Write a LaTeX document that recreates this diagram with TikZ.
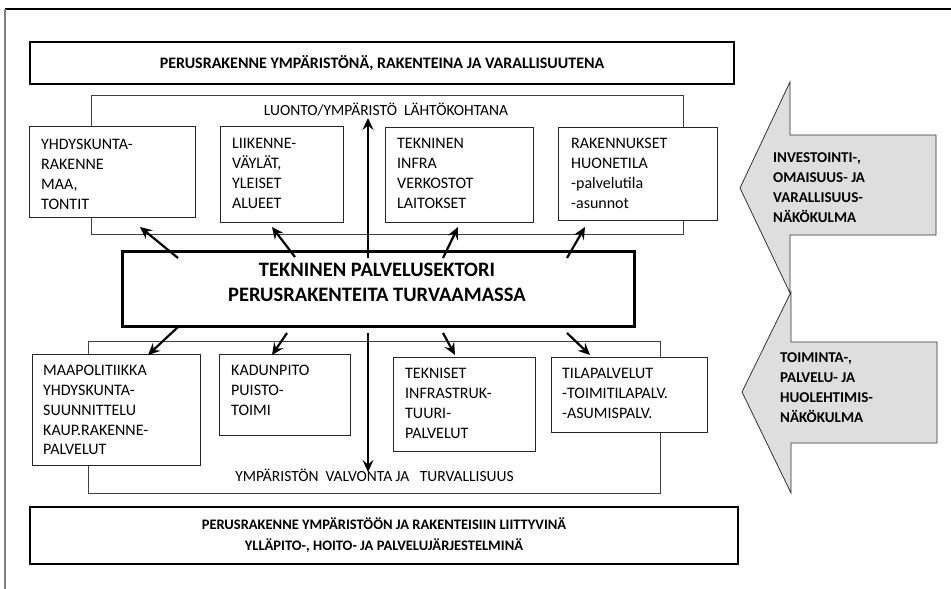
\documentclass[tikz,border=0pt]{standalone}
\usepackage{fontspec}
\setmainfont{Carlito}
\usetikzlibrary{arrows.meta,calc}
\begin{document}
\begin{tikzpicture}[x=1pt,y=-1pt,
  banner/.style={draw, line width=2pt, anchor=north west, inner sep=0pt, align=center},
  holder/.style={draw=black!75, line width=1pt, anchor=north west, inner sep=0pt},
  cell/.style={draw=black!85, fill=white, line width=1pt, anchor=north west, inner sep=0pt},
  celltext/.style={anchor=north west, inner sep=0pt, align=left,
    font=\fontsize{16}{19.7}\selectfont},
  holdertext/.style={anchor=base, inner sep=0pt, font=\fontsize{15.5}{19.7}\selectfont},
  corebox/.style={draw, line width=2.5pt, anchor=north west, inner sep=0pt},
  coretext/.style={align=center, inner sep=0pt, font=\fontsize{20.5}{25}\selectfont\bfseries},
  flow/.style={line width=2.2pt, -{Stealth[length=12pt,width=11pt,inset=4.5pt]}},
  view/.style={draw=black!80, fill=black!13, line width=0.8pt},
  viewtext/.style={anchor=north west, inner sep=0pt, align=left,
    font=\fontsize{15}{19.7}\selectfont\bfseries},
]
\useasboundingbox (0,0) rectangle (951,589);

% page frame
\draw[line width=1.5pt] (5,9) -- (951,9);
\draw[black!50, line width=1.5pt] (5,9) -- (5,589);

% banners
\node[banner, minimum width=704, minimum height=42, font=\fontsize{16}{21}\selectfont\bfseries]
  (topbar) at (29,41) {PERUSRAKENNE YMPÄRISTÖNÄ, RAKENTEINA JA VARALLISUUTENA};
\node[banner, minimum width=708, minimum height=57, font=\fontsize{14.5}{21}\selectfont\bfseries]
  (bottombar) at (29,506)
  {PERUSRAKENNE YMPÄRISTÖÖN JA RAKENTEISIIN LIITTYVINÄ\\
   YLLÄPITO-, HOITO- JA PALVELUJÄRJESTELMINÄ};

% containers
\node[holder, minimum width=592, minimum height=139] (upper) at (91,95) {};
\node[holder, minimum width=572, minimum height=152] (lower) at (88,341) {};
\node[holdertext] (uppertitle) at (386,115) {LUONTO/YMPÄRISTÖ\ \ LÄHTÖKOHTANA};
\node[holdertext] (lowertitle) at (374.5,481) {YMPÄRISTÖN\ \ VALVONTA JA\ \ \ TURVALLISUUS};

% upper cells
\node[cell, minimum width=166, minimum height=91] (c1) at (29,126) {};
\node[cell, minimum width=123, minimum height=96] (c2) at (220,126) {};
\node[cell, minimum width=148, minimum height=95] (c3) at (385,127) {};
\node[cell, minimum width=159, minimum height=93] (c4) at (558,127) {};
\node[celltext] (t1) at ($(c1.north west)+(12,10)$) {\strut YHDYSKUNTA-\\RAKENNE\\MAA,\\TONTIT};
\node[celltext] (t2) at ($(c2.north west)+(12,9)$) {\strut LIIKENNE-\\VÄYLÄT,\\YLEISET\\ALUEET};
\node[celltext] (t3) at ($(c3.north west)+(12,8)$) {\strut TEKNINEN\\INFRA\\VERKOSTOT\\LAITOKSET};
\node[celltext] (t4) at ($(c4.north west)+(13,8)$) {\strut RAKENNUKSET\\HUONETILA\\-palvelutila\\-asunnot};

% lower cells
\node[cell, minimum width=168, minimum height=111] (d1) at (32,354) {};
\node[cell, minimum width=131, minimum height=81] (d2) at (219,354) {};
\node[cell, minimum width=142, minimum height=94] (d3) at (393,357) {};
\node[cell, minimum width=156, minimum height=75] (d4) at (551,357) {};
\node[celltext] (s1) at ($(d1.north west)+(11,8)$) {\strut MAAPOLITIIKKA\\YHDYSKUNTA-\\SUUNNITTELU\\KAUP.RAKENNE-\\PALVELUT};
\node[celltext] (s2) at ($(d2.north west)+(12,8)$) {\strut KADUNPITO\\PUISTO-\\TOIMI};
\node[celltext] (s3) at ($(d3.north west)+(12,8)$) {\strut TEKNISET\\INFRASTRUK-\\TUURI-\\PALVELUT};
\node[celltext] (s4) at ($(d4.north west)+(11,8)$) {\strut TILAPALVELUT\\-TOIMITILAPALV.\\-ASUMISPALV.};

% central sector
\node[corebox, minimum width=512, minimum height=75] (core) at (121,250) {};
\node[coretext] (coretitle) at (377,282.5) {TEKNINEN PALVELUSEKTORI\\PERUSRAKENTEITA TURVAAMASSA};

% arrow end points
\coordinate (u1a) at (178,258); \coordinate (u1b) at (140,227);
\coordinate (u2a) at (295,257); \coordinate (u2b) at (272,227);
\coordinate (u3a) at (368,258); \coordinate (u3b) at (368,118);
\coordinate (u4a) at (443,258); \coordinate (u4b) at (458,227);
\coordinate (u5a) at (567,258); \coordinate (u5b) at (585,227);
\coordinate (l1a) at (178,327); \coordinate (l1b) at (148,355);
\coordinate (l2a) at (287,333); \coordinate (l2b) at (272,355);
\coordinate (l3a) at (368,333); \coordinate (l3b) at (368,472);
\coordinate (l4a) at (443,333); \coordinate (l4b) at (455,355);
\coordinate (l5a) at (567,333); \coordinate (l5b) at (590,355);

\foreach \a in {u1,u2,u3,u4,u5,l1,l2,l3,l4,l5}
  \draw[flow] (\a a) -- (\a b);

% viewpoint arrows
\draw[view] (740,188) -- (790,82) -- (790,135) -- (936,135) -- (936,235)
  -- (790,235) -- (790,293) -- cycle;
\draw[view] (742,392) -- (791,292) -- (791,342) -- (937,342) -- (937,443)
  -- (791,443) -- (791,493) -- cycle;
\node[viewtext] (va) at (773,149) {\strut INVESTOINTI-,\\OMAISUUS- JA\\VARALLISUUS-\\NÄKÖKULMA};
\node[viewtext] (vb) at (780,349) {\strut TOIMINTA-,\\PALVELU- JA\\HUOLEHTIMIS-\\NÄKÖKULMA};
\end{tikzpicture}
\end{document}
